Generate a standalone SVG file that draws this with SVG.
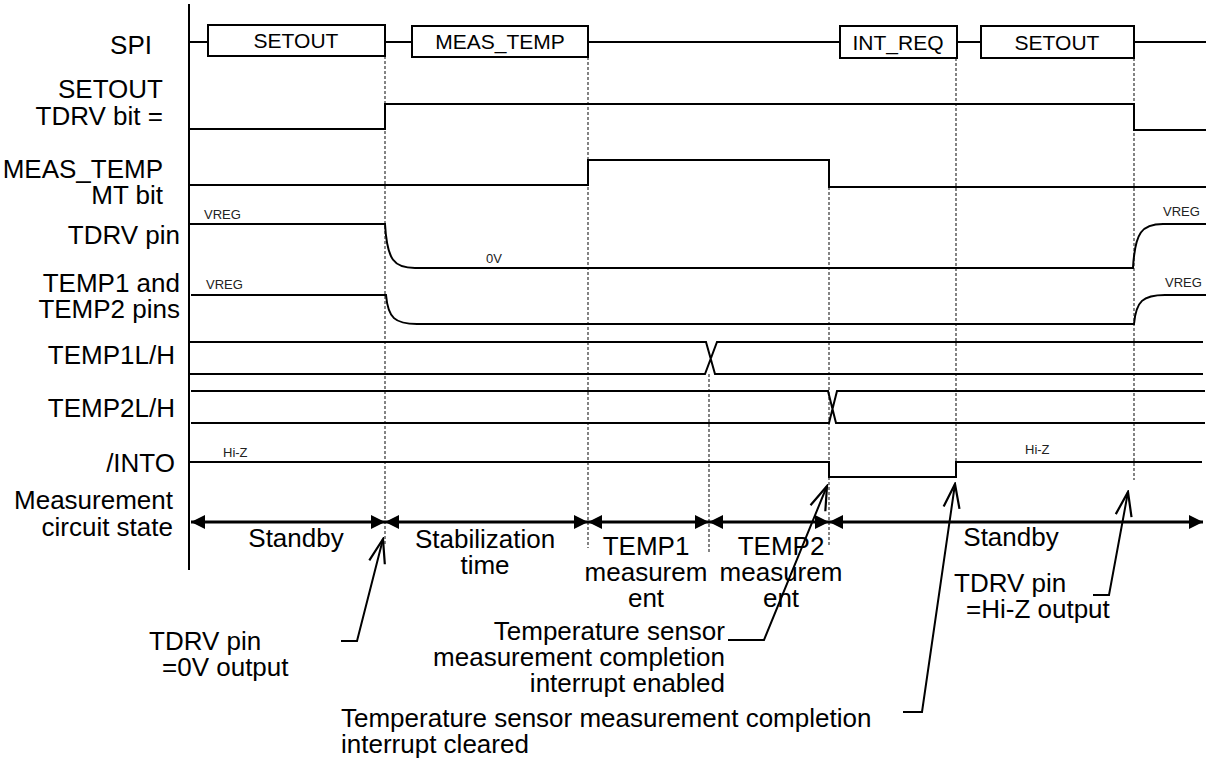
<svg xmlns="http://www.w3.org/2000/svg" width="1208" height="758" viewBox="0 0 1208 758">
<style>
text{font-family:"Liberation Sans",Arial,sans-serif;fill:#000}
.lbl{font-size:26px;text-anchor:end}
.box{font-size:21px;text-anchor:middle}
.st{font-size:26px;text-anchor:middle}
.ann{font-size:26px}
.sm{font-size:13px;fill:#222}
.w{fill:none;stroke:#000;stroke-width:2}
.bx{fill:#fff;stroke:#000;stroke-width:2}
.d{fill:none;stroke:#333;stroke-width:1.2;stroke-dasharray:3 2}
.arr{fill:none;stroke:#000;stroke-width:3;marker-start:url(#tri);marker-end:url(#tri)}
.ld{fill:none;stroke:#000;stroke-width:2;marker-end:url(#open)}
</style>
<defs>
<marker id="tri" viewBox="0 0 14 14" refX="14" refY="7" markerWidth="14" markerHeight="14" markerUnits="userSpaceOnUse" orient="auto-start-reverse"><path d="M0,0 L14,7 L0,14 z" fill="#000"/></marker>
<marker id="open" viewBox="-2 -10 28 20" refX="24" refY="0" markerWidth="28" markerHeight="20" markerUnits="userSpaceOnUse" orient="auto"><path d="M0,-8 L24,0 L0,8" fill="none" stroke="#000" stroke-width="2.2"/></marker>
</defs>
<rect width="1208" height="758" fill="#fff"/>

<g id="guides">
<line class="d" x1="385" y1="56" x2="385" y2="545"/>
<line class="d" x1="588" y1="57" x2="588" y2="548"/>
<line class="d" x1="709" y1="374" x2="709" y2="552"/>
<line class="d" x1="829" y1="187" x2="829" y2="545"/>
<line class="d" x1="956" y1="58" x2="956" y2="477"/>
<line class="d" x1="1134" y1="58" x2="1134" y2="480"/>
</g>

<g id="axis"><line x1="189" y1="4" x2="189" y2="570" stroke="#000" stroke-width="2"/></g>

<g id="sig-spi">
<text class="lbl" x="152" y="54">SPI</text>
<path class="w" d="M189,42 H208 M385,42 H412 M588,42 H840 M957,42 H981 M1134,42 H1206"/>
<rect class="bx" x="208" y="25" width="177" height="31"/>
<text class="box" x="296" y="48">SETOUT</text>
<rect class="bx" x="412" y="26" width="176" height="31"/>
<text class="box" x="500" y="49">MEAS_TEMP</text>
<rect class="bx" x="840" y="26" width="117" height="32"/>
<text class="box" x="898" y="50">INT_REQ</text>
<rect class="bx" x="981" y="26" width="153" height="32"/>
<text class="box" x="1057" y="50">SETOUT</text>
</g>

<g id="sig-tdrvbit">
<text class="lbl" x="163" y="98">SETOUT</text>
<text class="lbl" x="163" y="125">TDRV bit =</text>
<path class="w" d="M189,129 H385 V104 H1134 V130 H1206"/>
</g>

<g id="sig-mtbit">
<text class="lbl" x="163" y="178">MEAS_TEMP</text>
<text class="lbl" x="163" y="204">MT bit</text>
<path class="w" d="M189,185 H588 V160 H829 V187 H1206"/>
</g>

<g id="sig-tdrvpin">
<text class="lbl" x="180" y="244">TDRV pin</text>
<path class="w" d="M189,224 H385 C387,260 394,268 415,268 H1133 C1135,232 1142,224 1163,224 H1206"/>
<text class="sm" x="204" y="219">VREG</text>
<text class="sm" x="486" y="263">0V</text>
<text class="sm" x="1163" y="216">VREG</text>
</g>

<g id="sig-temppins">
<text class="lbl" x="180" y="292">TEMP1 and</text>
<text class="lbl" x="180" y="318">TEMP2 pins</text>
<path class="w" d="M191,295 H386 C388,318 395,324 417,324 H1134 C1136,301 1143,295 1165,295 H1206"/>
<text class="sm" x="206" y="289">VREG</text>
<text class="sm" x="1165" y="287">VREG</text>
</g>

<g id="sig-temp1lh">
<text class="lbl" x="175" y="364">TEMP1L/H</text>
<path class="w" d="M189,342 H706 L715,374 H1203 M189,374 H705 L717,342 H1203"/>
</g>

<g id="sig-temp2lh">
<text class="lbl" x="175" y="417">TEMP2L/H</text>
<path class="w" d="M191,391 H828 L836,423 H1205 M191,423 H829 L837,391 H1205"/>
</g>

<g id="sig-into">
<text class="lbl" x="175" y="472">/INTO</text>
<path class="w" d="M189,462 H829 V477 H956 V462 H1202"/>
<text class="sm" x="223" y="457">Hi-Z</text>
<text class="sm" x="1025" y="454">Hi-Z</text>
</g>

<g id="state">
<text class="lbl" x="173" y="509">Measurement</text>
<text class="lbl" x="173" y="536">circuit state</text>
<text class="st" x="296" y="547">Standby</text>
<text class="st" x="485" y="548">Stabilization</text>
<text class="st" x="485" y="574">time</text>
<text class="st" x="646" y="555">TEMP1</text>
<text class="st" x="646" y="581">measurem</text>
<text class="st" x="646" y="607">ent</text>
<text class="st" x="781" y="555">TEMP2</text>
<text class="st" x="781" y="581">measurem</text>
<text class="st" x="781" y="607">ent</text>
<text class="st" x="1011" y="546">Standby</text>
</g>

<g id="note-0v">
<text class="ann" x="149" y="650">TDRV pin</text>
<text class="ann" x="162" y="676">=0V output</text>
</g>
<g id="note-enabled">
<text class="ann" x="725" y="640" text-anchor="end">Temperature sensor</text>
<text class="ann" x="725" y="666" text-anchor="end">measurement completion</text>
<text class="ann" x="725" y="692" text-anchor="end">interrupt enabled</text>
</g>
<g id="note-cleared">
<text class="ann" x="341" y="727">Temperature sensor measurement completion</text>
<text class="ann" x="341" y="753">interrupt cleared</text>
</g>
<g id="note-hiz">
<text class="ann" x="954" y="592">TDRV pin</text>
<text class="ann" x="966" y="618">=Hi-Z output</text>
</g>

<g id="connectors">
<line class="arr" x1="191" y1="522" x2="385" y2="522"/>
<line class="arr" x1="385" y1="522" x2="588" y2="522"/>
<line class="arr" x1="588" y1="522" x2="709" y2="522"/>
<line class="arr" x1="709" y1="522" x2="829" y2="522"/>
<line class="arr" x1="829" y1="522" x2="1203" y2="522"/>
<path class="ld" d="M341,641 H357 L383,539"/>
<path class="ld" d="M728,640 H764 L827,486"/>
<path class="ld" d="M903,712 H922 L955,484"/>
<path class="ld" d="M1093,595 H1109 L1128,492"/>
</g>
</svg>
